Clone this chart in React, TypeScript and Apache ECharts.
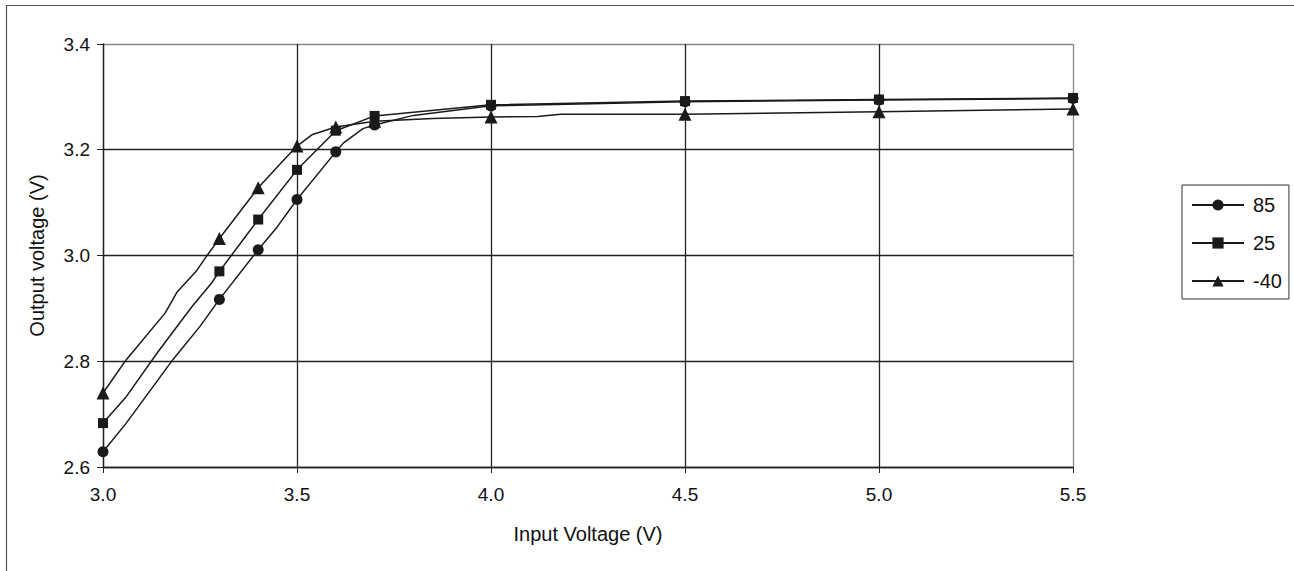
import React, { useEffect, useRef } from "react";
import * as echarts from "echarts";

// Input voltages that carry a marker in the reference
const markedInputs = [3.0, 3.3, 3.4, 3.5, 3.6, 3.7, 4.0, 4.5, 5.0, 5.5];

// 85 °C curve
const input85 = [3.0, 3.06, 3.18, 3.25, 3.3, 3.4, 3.45, 3.5, 3.6, 3.62, 3.67, 3.7, 3.8, 4.0, 4.5, 5.0, 5.5];
const output85 = [2.629, 2.683, 2.803, 2.866, 2.917, 3.011, 3.055, 3.106, 3.196, 3.213, 3.24, 3.247, 3.265, 3.283, 3.291, 3.294, 3.297];

// 25 °C curve
const input25 = [3.0, 3.06, 3.14, 3.23, 3.28, 3.3, 3.4, 3.5, 3.6, 3.7, 4.0, 4.5, 5.0, 5.5];
const output25 = [2.683, 2.733, 2.816, 2.904, 2.948, 2.97, 3.068, 3.162, 3.236, 3.264, 3.285, 3.292, 3.295, 3.298];

// -40 °C curve
const inputM40 = [3.0, 3.06, 3.16, 3.19, 3.24, 3.27, 3.3, 3.4, 3.46, 3.5, 3.54, 3.6, 3.7, 3.85, 4.0, 4.12, 4.18, 4.5, 5.0, 5.5];
const outputM40 = [2.74, 2.803, 2.891, 2.93, 2.97, 3.002, 3.032, 3.128, 3.176, 3.207, 3.229, 3.243, 3.254, 3.259, 3.262, 3.263, 3.267, 3.267, 3.272, 3.277];

const seriesNames = ["85", "25", "-40"];

const FONT = "Liberation Sans, Arial, sans-serif";
const INK = "#1a1a1a";

function buildData(xs: number[], ys: number[]) {
  return xs.map((x, i) => {
    const marked = markedInputs.some((m) => Math.abs(m - x) < 1e-9);
    return marked ? { value: [x, ys[i]] } : { value: [x, ys[i]], symbol: "none" };
  });
}

export default function App() {
  const ref = useRef<HTMLDivElement>(null);

  useEffect(() => {
    document.body.style.margin = "0";
    if (!ref.current) return;
    const chart = echarts.init(ref.current, undefined, { renderer: "svg" });

    const lineSeries = (name: string, xs: number[], ys: number[], symbol: string, size: number) => ({
      name,
      type: "line",
      data: buildData(xs, ys),
      symbol,
      symbolSize: size,
      showSymbol: true,
      color: INK,
      itemStyle: { color: INK },
      lineStyle: { color: INK, width: 1.5 },
      emphasis: { disabled: true },
    });

    chart.setOption({
      animation: false,
      backgroundColor: "#ffffff",
      textStyle: { fontFamily: FONT },
      graphic: [
        {
          type: "line",
          shape: { x1: 6, y1: 5.5, x2: 1294, y2: 5.5 },
          style: { stroke: "#555", lineWidth: 1.2 },
          silent: true,
        },
        {
          type: "line",
          shape: { x1: 6.5, y1: 5, x2: 6.5, y2: 571 },
          style: { stroke: "#555", lineWidth: 1.2 },
          silent: true,
        },
      ],
      grid: { left: 103, top: 44, right: 221, bottom: 104, show: false },
      legend: {
        orient: "vertical",
        left: 1182,
        top: 185,
        data: seriesNames,
        padding: [10, 7, 8, 9],
        itemGap: 18,
        itemWidth: 52,
        itemHeight: 14,
        borderColor: "#333",
        borderWidth: 1,
        textStyle: { fontSize: 20, color: "#111", fontFamily: FONT, padding: [0, 0, 0, 4] },
      },
      xAxis: {
        type: "value",
        min: 3,
        max: 5.5,
        interval: 0.5,
        name: "Input Voltage (V)",
        nameLocation: "middle",
        nameGap: 57,
        nameTextStyle: { fontSize: 20, color: "#111", fontFamily: FONT },
        axisLine: { show: true, onZero: false, lineStyle: { color: "#222", width: 1.3 } },
        axisTick: { show: true, inside: false, length: 6, lineStyle: { color: "#222" } },
        axisLabel: {
          fontSize: 19,
          color: "#111",
          margin: 18,
          fontFamily: FONT,
          formatter: (v: number) => v.toFixed(1),
        },
        splitLine: {
          show: true,
          lineStyle: { color: ["#222", "#222", "#222", "#222", "#222", "#888"], width: 1.3 },
        },
      },
      yAxis: {
        type: "value",
        min: 2.6,
        max: 3.4,
        interval: 0.2,
        name: "Output voltage (V)",
        nameLocation: "middle",
        nameGap: 56,
        nameRotate: 90,
        nameTextStyle: { fontSize: 20, color: "#111", fontFamily: FONT },
        axisLine: { show: true, onZero: false, lineStyle: { color: "#222", width: 1.3 } },
        axisTick: { show: true, inside: false, length: 6, lineStyle: { color: "#222" } },
        axisLabel: {
          fontSize: 19,
          color: "#111",
          margin: 13,
          fontFamily: FONT,
          formatter: (v: number) => v.toFixed(1),
        },
        splitLine: {
          show: true,
          lineStyle: { color: ["#222", "#222", "#222", "#222", "#888"], width: 1.3 },
        },
      },
      series: [
        lineSeries(seriesNames[0], input85, output85, "circle", 11),
        lineSeries(seriesNames[1], input25, output25, "rect", 10),
        lineSeries(seriesNames[2], inputM40, outputM40, "triangle", 13),
      ],
    });

    return () => {
      chart.dispose();
    };
  }, []);

  return <div ref={ref} style={{ width: 1294, height: 571 }} />;
}
